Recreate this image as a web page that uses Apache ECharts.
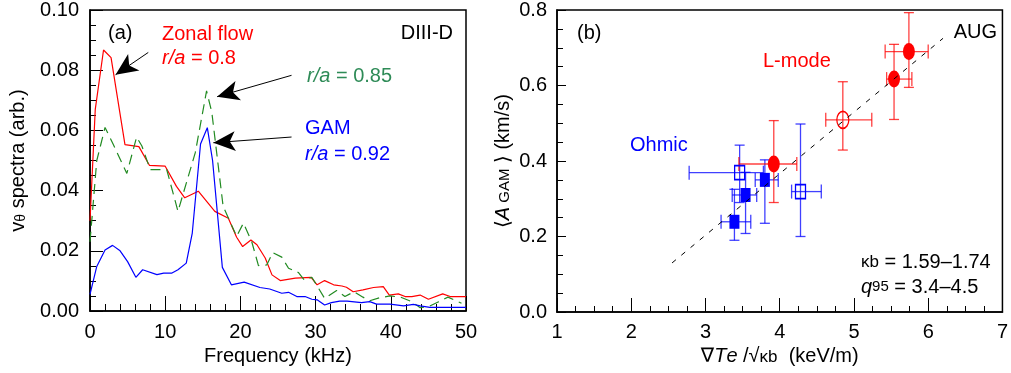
<!DOCTYPE html>
<html>
<head>
<meta charset="utf-8">
<script src="https://cdn.jsdelivr.net/npm/echarts@6/dist/echarts.min.js"></script>
<style>
  html, body { margin: 0; padding: 0; background: #fff; }
  #chart { width: 1011px; height: 373px; }
</style>
</head>
<body>
<div id="chart"></div>
<script>
// (a) DIII-D spectra, frequency in kHz
const zonalFreq = [0, 0.7, 1.8, 2.8, 4.65, 6.5, 7.9, 10, 11.5, 12.6, 14.4, 16.6, 18.4, 19.5, 20.3, 21.4, 22.2, 23.3, 24.2, 25.3, 27.3, 29.4, 30.2, 31.2, 32.4, 33.5, 34.1, 35, 36.3, 37.7, 39, 39.8, 41, 41.9, 42.8, 43.9, 45, 46.9, 47.9, 50]
const zonalVal = [0.030, 0.067, 0.0867, 0.0842, 0.0553, 0.0546, 0.0484, 0.0481, 0.0414, 0.0376, 0.0398, 0.0331, 0.0308, 0.0245, 0.0214, 0.0236, 0.022, 0.0176, 0.012, 0.0101, 0.0109, 0.0112, 0.0087, 0.0101, 0.0087, 0.0083, 0.0079, 0.0064, 0.007, 0.0078, 0.0081, 0.0053, 0.0057, 0.0048, 0.0048, 0.0053, 0.0039, 0.0057, 0.0048, 0.0048]

const midFreq = [0, 0.9, 2.0, 3.1, 4.9, 6.2, 6.9, 8, 10.2, 11.7, 14, 15.5, 16.2, 17.7, 19.5, 20.4, 21.5, 22.4, 23.5, 24.3, 25.5, 26.4, 27.7, 28.5, 29.5, 31.2, 32.8, 33.9, 35.1, 36.3, 37.2, 38.5, 39.9, 41.3, 42.8, 43.9, 45, 46.3, 47.6, 49.4]
const midVal = [0.023, 0.050, 0.061, 0.0553, 0.0457, 0.0578, 0.0548, 0.047, 0.047, 0.0331, 0.0526, 0.0731, 0.066, 0.0348, 0.0248, 0.0292, 0.0231, 0.0151, 0.0153, 0.0194, 0.0179, 0.0142, 0.0128, 0.0103, 0.0112, 0.0042, 0.0068, 0.0048, 0.0064, 0.0046, 0.0034, 0.0044, 0.005, 0.0046, 0.0031, 0.0011, 0.0014, 0.003, 0.0046, 0.0026]

const gamFreq = [0, 0.9, 2.0, 3.0, 4.0, 5.0, 6.1, 7.0, 8.9, 9.8, 10.9, 11.7, 12.8, 13.6, 14.7, 15.6, 16.3, 17.6, 18.8, 20.5, 22.6, 23.9, 25.5, 26.4, 27.5, 28.6, 29.5, 30.2, 31.2, 32.1, 33.2, 34.2, 36.1, 37.2, 38.1, 39.9, 41.7, 43, 43.9, 45.2, 50]
const gamVal = [0.0055, 0.0148, 0.0203, 0.0218, 0.020, 0.0164, 0.0112, 0.0137, 0.0121, 0.0126, 0.0126, 0.0137, 0.0159, 0.0259, 0.0555, 0.0609, 0.050, 0.0145, 0.0087, 0.0096, 0.0078, 0.0073, 0.0059, 0.0062, 0.0048, 0.0048, 0.0039, 0.0037, 0.002, 0.0028, 0.0033, 0.0033, 0.0028, 0.0031, 0.0023, 0.0023, 0.0017, 0.0022, 0.0017, 0.0012, 0.0012]

// (b) AUG: [gradTe, A, xLo, xHi, yLo, yHi]
const ohmicFilled = [
    [3.54, 0.31, 3.36, 3.69, 0.208, 0.37],
    [3.80, 0.35, 3.67, 3.98, 0.235, 0.403],
    [3.39, 0.239, 3.21, 3.61, 0.19, 0.325]
]
const ohmicOpen = [
    [3.46, 0.369, 2.78, 3.78, 0.29, 0.442],
    [4.28, 0.319, 4.16, 4.56, 0.20, 0.498]
]
const lmodeFilled = [
    [5.74, 0.69, 5.42, 6.00, 0.595, 0.793],
    [5.54, 0.617, 5.44, 5.78, 0.510, 0.709],
    [3.92, 0.392, 3.45, 4.23, 0.29, 0.507]
]
const lmodeOpen = [
    [4.85, 0.509, 4.62, 5.24, 0.429, 0.61]
]
const fitX = [2.55, 6.2]
const fitY = [0.13, 0.725]

const pairs = (xs, ys) => xs.map((x, i) => [x, ys[i]])

const FONT = 'Liberation Sans, Arial, DejaVu Sans, sans-serif'
const RED = '#ff0000'
const BLUE = '#0000ff'
const GREEN_TXT = '#2e8b57'
const GREEN_LINE = '#228b22'

const chart = echarts.init(document.getElementById('chart'))

function errorBars(color) {
    return function (params, api) {
        const x = api.value(0), y = api.value(1)
        const l = api.coord([api.value(2), y])
        const r = api.coord([api.value(3), y])
        const b = api.coord([x, api.value(4)])
        const t = api.coord([x, api.value(5)])
        const st = { stroke: color, lineWidth: 1.3 }
        const seg = (x1, y1, x2, y2) => ({ type: 'line', shape: { x1, y1, x2, y2 }, style: st })
        return {
            type: 'group',
            children: [
                seg(l[0], l[1], r[0], r[1]),
                seg(l[0], l[1] - 7, l[0], l[1] + 7),
                seg(r[0], r[1] - 7, r[0], r[1] + 7),
                seg(b[0], b[1], t[0], t[1]),
                seg(b[0] - 5, b[1], b[0] + 5, b[1]),
                seg(t[0] - 5, t[1], t[0] + 5, t[1])
            ]
        }
    }
}

const ellipse = 'path://M0,-1 A1,1 0 1,1 0,1 A1,1 0 1,1 0,-1 Z'

const axisBase = {
    axisLine: { show: true, onZero: false, lineStyle: { color: '#000', width: 1.5 } },
    axisTick: { show: true, inside: true, lineStyle: { color: '#000', width: 1 } },
    minorTick: { show: true, lineStyle: { color: '#000', width: 1 } },
    splitLine: { show: false },
    axisLabel: { color: '#000', fontSize: 20, fontFamily: FONT },
    nameTextStyle: { color: '#000', fontSize: 20, fontFamily: FONT }
}

function txt(x, y, text, color, extra) {
    return {
        type: 'text', x, y,
        style: Object.assign({
            text, fill: color, font: '20px ' + FONT,
            align: 'left', verticalAlign: 'middle'
        }, extra || {})
    }
}

const option = {
    animation: false,
    backgroundColor: '#fff',
    grid: [
        { left: 90, right: 545, top: 10, bottom: 62, show: true, borderColor: '#000', borderWidth: 1.5 },
        { left: 557, right: 2, top: 10, bottom: 61, show: true, borderColor: '#000', borderWidth: 1.5 }
    ],
    xAxis: [
        Object.assign({}, axisBase, {
            type: 'value', gridIndex: 0, min: 0, max: 50, interval: 10,
            name: 'Frequency (kHz)', nameLocation: 'middle', nameGap: 34,
            axisTick: Object.assign({}, axisBase.axisTick, { length: 15 }),
            minorTick: Object.assign({}, axisBase.minorTick, { splitNumber: 5, length: 7 }),
            axisLabel: Object.assign({}, axisBase.axisLabel, { margin: 11 })
        }),
        Object.assign({}, axisBase, {
            type: 'value', gridIndex: 1, min: 1, max: 7, interval: 1,
            name: '{n|∇}{i|T}{i|e}{n| /√}{k|κb}{n|  (keV/m)}', nameLocation: 'middle', nameGap: 34,
            nameTextStyle: {
                color: '#000', fontSize: 20, fontFamily: FONT,
                rich: {
                    n: { fontSize: 20, fontFamily: FONT, color: '#000' },
                    i: { fontSize: 20, fontFamily: FONT, fontStyle: 'italic', color: '#000' },
                    k: { fontSize: 17, fontFamily: FONT, color: '#000' }
                }
            },
            axisTick: Object.assign({}, axisBase.axisTick, { length: 14 }),
            minorTick: Object.assign({}, axisBase.minorTick, { splitNumber: 4, length: 6 }),
            axisLabel: Object.assign({}, axisBase.axisLabel, { margin: 10 })
        })
    ],
    yAxis: [
        Object.assign({}, axisBase, {
            type: 'value', gridIndex: 0, min: 0, max: 0.1, interval: 0.02,
            name: '{n|v}{s|θ}{n| spectra (arb.)}', nameLocation: 'middle', nameGap: 62,
            nameTextStyle: {
                color: '#000', fontSize: 20, fontFamily: FONT,
                rich: {
                    n: { fontSize: 20, fontFamily: FONT, color: '#000' },
                    s: { fontSize: 14, fontFamily: FONT, color: '#000', padding: [6, 0, 0, 0] }
                }
            },
            axisTick: Object.assign({}, axisBase.axisTick, { length: 13 }),
            minorTick: Object.assign({}, axisBase.minorTick, { splitNumber: 4, length: 6 }),
            axisLabel: Object.assign({}, axisBase.axisLabel, { margin: 11, formatter: v => v.toFixed(2) })
        }),
        Object.assign({}, axisBase, {
            type: 'value', gridIndex: 1, min: 0, max: 0.8, interval: 0.2,
            name: '{n|⟨}{i|A}{s| GAM}{n| ⟩ (km/s)}', nameLocation: 'middle', nameGap: 44,
            nameTextStyle: {
                color: '#000', fontSize: 20, fontFamily: FONT,
                rich: {
                    n: { fontSize: 20, fontFamily: FONT, color: '#000' },
                    i: { fontSize: 20, fontFamily: FONT, fontStyle: 'italic', color: '#000' },
                    s: { fontSize: 15, fontFamily: FONT, color: '#000', padding: [4, 0, 0, 0] }
                }
            },
            axisTick: Object.assign({}, axisBase.axisTick, { length: 9 }),
            minorTick: Object.assign({}, axisBase.minorTick, { splitNumber: 4, length: 6 }),
            axisLabel: Object.assign({}, axisBase.axisLabel, { margin: 10, formatter: v => v.toFixed(1) })
        })
    ],
    series: [
        {
            name: 'Zonal flow', type: 'line', xAxisIndex: 0, yAxisIndex: 0,
            data: pairs(zonalFreq, zonalVal), symbol: 'none',
            lineStyle: { color: RED, width: 1.2 },
            markLine: {
                silent: true, symbol: ['none', 'arrow'], symbolSize: [15, 22],
                lineStyle: { color: '#000', width: 1, type: 'solid' },
                itemStyle: { color: '#000' },
                label: { show: false },
                data: [
                    [{ coord: [7.75, 0.0859] }, { coord: [3.4, 0.0785] }],
                    [{ coord: [26.8, 0.0783] }, { coord: [16.9, 0.0712] }],
                    [{ coord: [26.8, 0.0578] }, { coord: [16.4, 0.0559] }]
                ]
            }
        },
        {
            name: 'r/a = 0.85', type: 'line', xAxisIndex: 0, yAxisIndex: 0,
            data: pairs(midFreq, midVal), symbol: 'none',
            lineStyle: { color: GREEN_LINE, width: 1.2, type: [10, 6] }
        },
        {
            name: 'GAM', type: 'line', xAxisIndex: 0, yAxisIndex: 0,
            data: pairs(gamFreq, gamVal), symbol: 'none',
            lineStyle: { color: BLUE, width: 1.2 }
        },
        {
            name: 'fit', type: 'line', xAxisIndex: 1, yAxisIndex: 1,
            data: pairs(fitX, fitY), symbol: 'none',
            lineStyle: { color: '#000', width: 1, type: [5, 7] }
        },
        {
            type: 'custom', xAxisIndex: 1, yAxisIndex: 1,
            data: ohmicFilled.concat(ohmicOpen), renderItem: errorBars('rgba(0,0,255,0.75)'),
            encode: { x: 0, y: 1 }
        },
        {
            type: 'custom', xAxisIndex: 1, yAxisIndex: 1,
            data: lmodeFilled.concat(lmodeOpen), renderItem: errorBars('rgba(255,0,0,0.75)'),
            encode: { x: 0, y: 1 }
        },
        {
            type: 'scatter', xAxisIndex: 1, yAxisIndex: 1,
            data: ohmicFilled.map(d => [d[0], d[1]]),
            symbol: 'rect', symbolSize: [10, 14],
            itemStyle: { color: BLUE, opacity: 1 }
        },
        {
            type: 'scatter', xAxisIndex: 1, yAxisIndex: 1,
            data: ohmicOpen.map(d => [d[0], d[1]]),
            symbol: 'rect', symbolSize: [10, 14],
            itemStyle: { color: 'rgba(0,0,0,0)', borderColor: BLUE, borderWidth: 1.5, opacity: 1 }
        },
        {
            type: 'scatter', xAxisIndex: 1, yAxisIndex: 1,
            data: lmodeFilled.map(d => [d[0], d[1]]),
            symbol: ellipse, symbolSize: [12, 17],
            itemStyle: { color: RED, opacity: 1 }
        },
        {
            type: 'scatter', xAxisIndex: 1, yAxisIndex: 1,
            data: lmodeOpen.map(d => [d[0], d[1]]),
            symbol: ellipse, symbolSize: [12, 17],
            itemStyle: { color: 'rgba(0,0,0,0)', borderColor: RED, borderWidth: 1.5, opacity: 1 }
        }
    ],
    graphic: [
        txt(108, 33, '(a)', '#000'),
        txt(162, 34, 'Zonal flow', RED),
        txt(162, 58, '{i|r/a} = 0.8', RED, { rich: { i: { fontStyle: 'italic', fontSize: 20, fontFamily: FONT, fill: RED } } }),
        txt(453, 33, 'DIII-D', '#000', { align: 'right' }),
        txt(307, 76, '{i|r/a} = 0.85', GREEN_TXT, { rich: { i: { fontStyle: 'italic', fontSize: 20, fontFamily: FONT, fill: GREEN_TXT } } }),
        txt(305, 128, 'GAM', BLUE),
        txt(305, 154, '{i|r/a} = 0.92', BLUE, { rich: { i: { fontStyle: 'italic', fontSize: 20, fontFamily: FONT, fill: BLUE } } }),
        txt(577, 33, '(b)', '#000'),
        txt(997, 32, 'AUG', '#000', { align: 'right' }),
        txt(763, 61, 'L-mode', RED),
        txt(630, 145, 'Ohmic', BLUE),
        txt(861, 262, '{k|κb} = 1.59–1.74', '#000', { rich: { k: { fontSize: 17, fontFamily: FONT, fill: '#000' } } }),
        txt(861, 287, '{q|q}{s|95} = 3.4–4.5', '#000', {
            rich: {
                q: { fontStyle: 'italic', fontSize: 20, fontFamily: FONT, fill: '#000' },
                s: { fontSize: 15, fontFamily: FONT, fill: '#000' }
            }
        })
    ]
}

chart.setOption(option)
</script>
</body>
</html>
